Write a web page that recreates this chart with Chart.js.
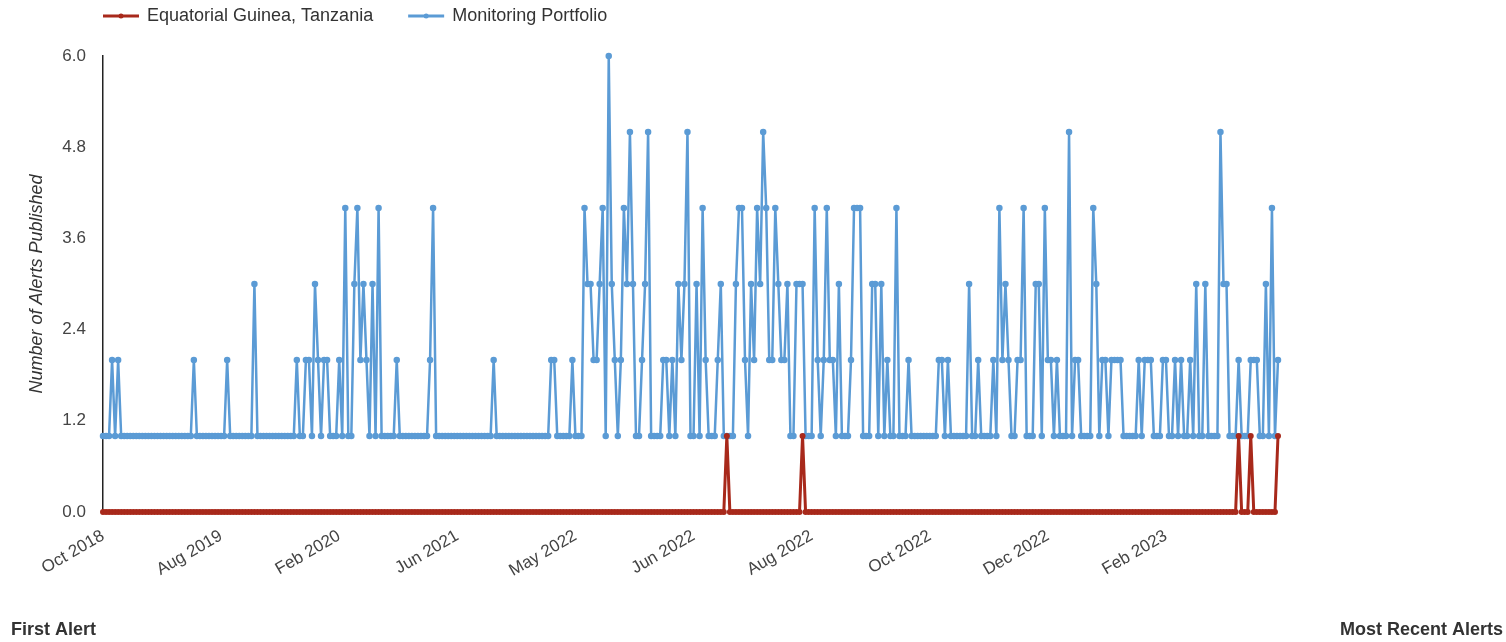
<!DOCTYPE html>
<html>
<head>
<meta charset="utf-8">
<script src="https://cdn.jsdelivr.net/npm/chart.js@4.4.1/dist/chart.umd.min.js"></script>
<style>
  html, body { margin: 0; padding: 0; background: #fff; }
</style>
</head>
<body>
<canvas id="alertsChart" width="1506" height="642"></canvas>
<script>
// Series names, in legend order
const seriesNames = ["Equatorial Guinea, Tanzania", "Monitoring Portfolio"];

// Tick labels shown along the x axis, one every TICK_STEP alerts
const tickLabels = ["Oct 2018", "Aug 2019", "Feb 2020", "Jun 2021", "May 2022",
  "Jun 2022", "Aug 2022", "Oct 2022", "Dec 2022", "Feb 2023"];
const TICK_STEP = 39;

// Alerts published for the selected countries
const countryAlerts = [
  0,0,0,0,0,0,0,0,0,0, 0,0,0,0,0,0,0,0,0,0,
  0,0,0,0,0,0,0,0,0,0, 0,0,0,0,0,0,0,0,0,0,
  0,0,0,0,0,0,0,0,0,0, 0,0,0,0,0,0,0,0,0,0,
  0,0,0,0,0,0,0,0,0,0, 0,0,0,0,0,0,0,0,0,0,
  0,0,0,0,0,0,0,0,0,0, 0,0,0,0,0,0,0,0,0,0,
  0,0,0,0,0,0,0,0,0,0, 0,0,0,0,0,0,0,0,0,0,
  0,0,0,0,0,0,0,0,0,0, 0,0,0,0,0,0,0,0,0,0,
  0,0,0,0,0,0,0,0,0,0, 0,0,0,0,0,0,0,0,0,0,
  0,0,0,0,0,0,0,0,0,0, 0,0,0,0,0,0,0,0,0,0,
  0,0,0,0,0,0,0,0,0,0, 0,0,0,0,0,0,0,0,0,0,
  0,0,0,0,0,0,1,0,0,0, 0,0,0,0,0,0,0,0,0,0,
  0,0,0,0,0,0,0,0,0,0, 0,1,0,0,0,0,0,0,0,0,
  0,0,0,0,0,0,0,0,0,0, 0,0,0,0,0,0,0,0,0,0,
  0,0,0,0,0,0,0,0,0,0, 0,0,0,0,0,0,0,0,0,0,
  0,0,0,0,0,0,0,0,0,0, 0,0,0,0,0,0,0,0,0,0,
  0,0,0,0,0,0,0,0,0,0, 0,0,0,0,0,0,0,0,0,0,
  0,0,0,0,0,0,0,0,0,0, 0,0,0,0,0,0,0,0,0,0,
  0,0,0,0,0,0,0,0,0,0, 0,0,0,0,0,0,0,0,0,0,
  0,0,0,0,0,0,0,0,0,0, 0,0,0,0,0,1,0,0,0,1,
  0,0,0,0,0,0,0,0,1
];

// Alerts published across the whole monitoring portfolio
const portfolioAlerts = [
  1,1,1,2,1,2,1,1,1,1, 1,1,1,1,1,1,1,1,1,1,
  1,1,1,1,1,1,1,1,1,1, 2,1,1,1,1,1,1,1,1,1,
  1,2,1,1,1,1,1,1,1,1, 3,1,1,1,1,1,1,1,1,1,
  1,1,1,1,2,1,1,2,2,1, 3,2,1,2,2,1,1,1,2,1,
  4,1,1,3,4,2,3,2,1,3, 1,4,1,1,1,1,1,2,1,1,
  1,1,1,1,1,1,1,1,2,4, 1,1,1,1,1,1,1,1,1,1,
  1,1,1,1,1,1,1,1,1,2, 1,1,1,1,1,1,1,1,1,1,
  1,1,1,1,1,1,1,1,2,2, 1,1,1,1,1,2,1,1,1,4,
  3,3,2,2,3,4,1,6,3,2, 1,2,4,3,5,3,1,1,2,3,
  5,1,1,1,1,2,2,1,2,1, 3,2,3,5,1,1,3,1,4,2,
  1,1,1,2,3,1,1,1,1,3, 4,4,2,1,3,2,4,3,5,4,
  2,2,4,3,2,2,3,1,1,3, 3,3,1,1,1,4,2,1,2,4,
  2,2,1,3,1,1,1,2,4,4, 4,1,1,1,3,3,1,3,1,2,
  1,1,4,1,1,1,2,1,1,1, 1,1,1,1,1,1,2,2,1,2,
  1,1,1,1,1,1,3,1,1,2, 1,1,1,1,2,1,4,2,3,2,
  1,1,2,2,4,1,1,1,3,3, 1,4,2,2,1,2,1,1,1,5,
  1,2,2,1,1,1,1,4,3,1, 2,2,1,2,2,2,2,1,1,1,
  1,1,2,1,2,2,2,1,1,1, 2,2,1,1,2,1,2,1,1,2,
  1,3,1,1,3,1,1,1,1,5, 3,3,1,1,1,2,1,1,1,2,
  2,2,1,1,3,1,4,1,2
];

const RED = "#a8291b";
const BLUE = "#5b9bd5";
const FONT = "'Liberation Sans', Arial, sans-serif";
const TEXT = "#333";

// Custom legend (line + dot) and the two corner captions
const extrasPlugin = {
  id: "extras",
  afterDraw(chart) {
    const { ctx, chartArea } = chart;
    ctx.save();
    ctx.font = "18px " + FONT;
    ctx.textBaseline = "middle";
    ctx.textAlign = "left";
    let x = chartArea.left;
    const y = 16;
    chart.data.datasets.forEach(ds => {
      ctx.strokeStyle = ds.borderColor;
      ctx.lineWidth = 3;
      ctx.beginPath();
      ctx.moveTo(x, y);
      ctx.lineTo(x + 36, y);
      ctx.stroke();
      ctx.fillStyle = ds.borderColor;
      ctx.beginPath();
      ctx.arc(x + 18, y, 2.5, 0, Math.PI * 2);
      ctx.fill();
      ctx.fillStyle = TEXT;
      ctx.fillText(ds.label, x + 44, y);
      x += 44 + ctx.measureText(ds.label).width + 35;
    });

    ctx.font = "bold 18px " + FONT;
    ctx.textBaseline = "alphabetic";
    ctx.fillStyle = TEXT;
    ctx.textAlign = "left";
    ctx.fillText("First Alert", 11, 635);
    ctx.textAlign = "right";
    ctx.fillText("Most Recent Alerts", 1503, 635);
    ctx.restore();
  }
};

new Chart(document.getElementById("alertsChart"), {
  type: "line",
  data: {
    labels: portfolioAlerts.map((_, i) => i),
    datasets: [
      {
        label: seriesNames[0],
        data: countryAlerts,
        borderColor: RED,
        backgroundColor: RED,
        borderWidth: 3,
        pointRadius: 1.5,
        pointHoverRadius: 1.5,
        tension: 0,
        clip: false
      },
      {
        label: seriesNames[1],
        data: portfolioAlerts,
        borderColor: BLUE,
        backgroundColor: BLUE,
        borderWidth: 2.5,
        pointRadius: 2,
        pointHoverRadius: 2,
        tension: 0,
        clip: false
      }
    ]
  },
  options: {
    responsive: false,
    animation: false,
    layout: { padding: { top: 56, right: 228, bottom: 0, left: 0 } },
    plugins: {
      legend: { display: false },
      tooltip: { enabled: false }
    },
    scales: {
      x: {
        type: "category",
        grid: { display: false },
        border: { display: false },
        afterFit(scale) { scale.height = 130; },
        ticks: {
          autoSkip: false,
          minRotation: 30,
          maxRotation: 30,
          padding: 6,
          color: "#444",
          font: { family: FONT, size: 17 },
          callback(value, index) {
            return index % TICK_STEP === 0 ? tickLabels[index / TICK_STEP] : "";
          }
        }
      },
      y: {
        min: 0,
        max: 6,
        grid: { display: false, drawTicks: false },
        border: { display: true, color: "#222", width: 1.5 },
        afterFit(scale) { scale.width = 103; },
        ticks: {
          stepSize: 1.2,
          padding: 17,
          color: "#444",
          font: { family: FONT, size: 17 },
          callback(value) { return Number(value).toFixed(1); }
        },
        title: {
          display: true,
          text: "Number of Alerts Published",
          color: TEXT,
          padding: { top: 26 },
          font: { family: FONT, size: 18, style: "italic" }
        }
      }
    }
  },
  plugins: [extrasPlugin]
});
</script>
</body>
</html>
